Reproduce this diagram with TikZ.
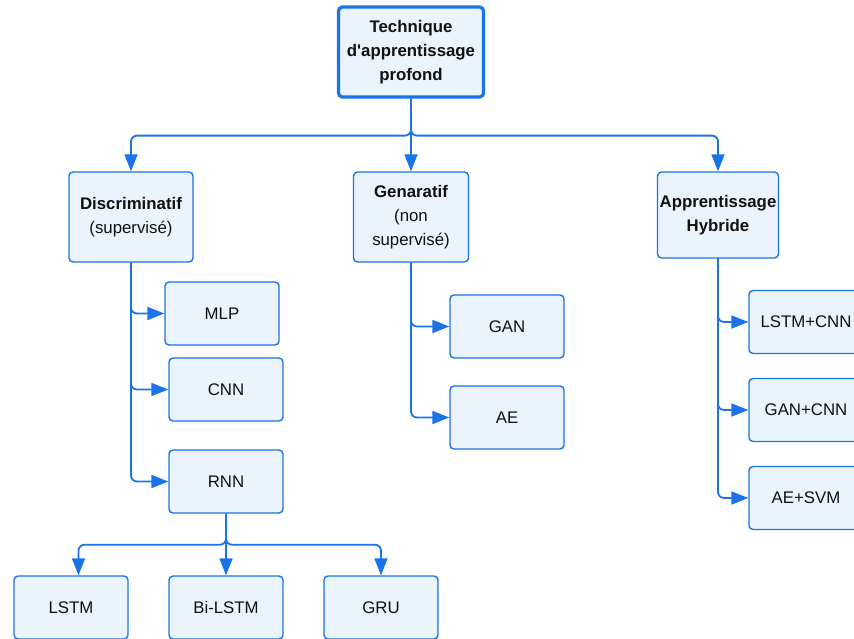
\documentclass[tikz,border=0pt]{standalone}
\usepackage{fontspec}
\setmainfont{Liberation Sans}
\usetikzlibrary{arrows.meta}
\definecolor{edgeblue}{HTML}{1A73E8}
\definecolor{boxfill}{HTML}{EBF3FD}
\definecolor{ink}{HTML}{111111}
\begin{document}
\begin{tikzpicture}[x=1pt,y=-1pt,
  box/.style={draw=edgeblue, fill=boxfill, line width=1.4pt, rounded corners=4pt,
    minimum width=114pt, minimum height=63pt, inner sep=0pt, align=center,
    text=ink, font=\fontsize{16.8}{24}\selectfont},
  rootbox/.style={box, line width=3.2pt, minimum width=145pt, minimum height=90pt,
    font=\fontsize{16.8}{24}\selectfont\bfseries},
  catbox/.style={box, minimum height=90pt},
  link/.style={draw=edgeblue, line width=1.8pt, rounded corners=6pt,
    -{Triangle[length=17pt,width=13pt]}}
]
\useasboundingbox (0,0) rectangle (854,638);
\begin{scope}
\clip (0,0) rectangle (854,638);

% root
\node[rootbox] (root) at (411,52) {Technique\\d\textquotesingle apprentissage\\profond};

% categories
\node[catbox, minimum width=124pt] (disc) at (131,217) {\textbf{Discriminatif}\\(supervisé)};
\node[catbox, minimum width=115pt] (gen) at (411,217) {\textbf{Genaratif}\\(non\\supervisé)};
\node[catbox, minimum width=121pt, minimum height=86pt, font=\fontsize{16.8}{24}\selectfont\bfseries] (hyb) at (718,215) {Apprentissage\\Hybride};

% discriminative models
\node[box] (mlp) at (222,313.5) {MLP};
\node[box] (cnn) at (226,389.5) {CNN};
\node[box] (rnn) at (226,481.5) {RNN};

% generative models
\node[box] (gan) at (507,326.5) {GAN};
\node[box] (ae) at (507,417.5) {AE};

% hybrid models
\node[box] (lc) at (806,322) {LSTM+CNN};
\node[box] (gc) at (806,410) {GAN+CNN};
\node[box] (as) at (806,498) {AE+SVM};

% recurrent variants
\node[box] (lstm) at (71,607.5) {LSTM};
\node[box] (bilstm) at (226,607.5) {Bi-LSTM};
\node[box] (gru) at (381,607.5) {GRU};

% root to categories
\draw[link] (root.south) -- ++(0,37) -| (disc.north);
\draw[link] (root.south) -- (gen.north);
\draw[link] (root.south) -- ++(0,37) -| (hyb.north);

% categories to models
\draw[link] (disc.south) |- (mlp.west);
\draw[link] (disc.south) |- (cnn.west);
\draw[link] (disc.south) |- (rnn.west);
\draw[link] (gen.south) |- (gan.west);
\draw[link] (gen.south) |- (ae.west);
\draw[link] (hyb.south) |- (lc.west);
\draw[link] (hyb.south) |- (gc.west);
\draw[link] (hyb.south) |- (as.west);

% RNN to its variants
\coordinate (lstmin) at ([xshift=7.5pt]lstm.north);
\draw[link] (rnn.south) -- ++(0,31) -| (lstmin);
\draw[link] (rnn.south) -- (bilstm.north);
\draw[link] (rnn.south) -- ++(0,31) -| (gru.north);
\end{scope}
\end{tikzpicture}
\end{document}
